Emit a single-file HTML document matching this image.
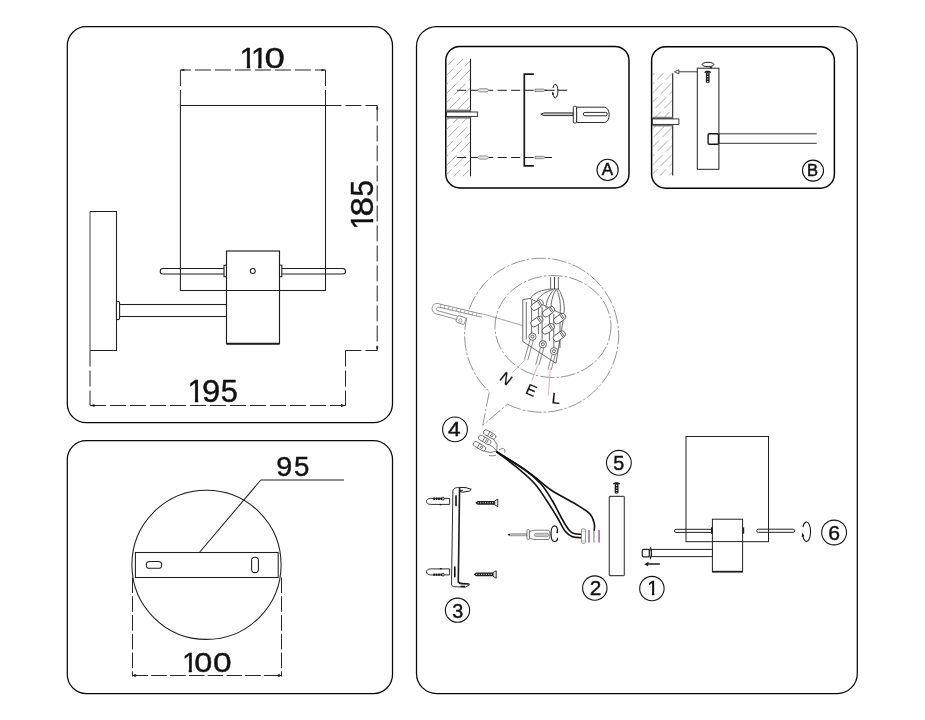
<!DOCTYPE html>
<html><head><meta charset="utf-8">
<style>
html,body{margin:0;padding:0;background:#fff;width:925px;height:720px;overflow:hidden}
svg{display:block;will-change:transform}
text{font-family:"Liberation Sans",sans-serif;fill:#111}
</style></head><body>
<svg width="925" height="720" viewBox="0 0 925 720">
<defs>
<!--CLIPS-->
<clipPath id="c1_30_2" clipPathUnits="userSpaceOnUse"><path d="M-20 -60H40V-3.56H10.56V10H7.30V-3.56H-20Z"/></clipPath>
<clipPath id="c1_30_5" clipPathUnits="userSpaceOnUse"><path d="M-20 -60H40V-3.58H10.66V10H7.37V-3.58H-20Z"/></clipPath>
<clipPath id="c1_27_6" clipPathUnits="userSpaceOnUse"><path d="M-20 -60H40V-3.36H9.68V10H6.64V-3.36H-20Z"/></clipPath>
<clipPath id="c1_19_8" clipPathUnits="userSpaceOnUse"><path d="M-20 -60H40V-2.78H7.03V10H4.68V-2.78H-20Z"/></clipPath>
<!--/CLIPS-->
</defs>
<rect width="925" height="720" fill="#fff"/>

<!-- ===== Outer boxes ===== -->
<g fill="none" stroke="#080808" stroke-width="1.25">
<rect x="67.3" y="26.7" width="325.2" height="396" rx="19"/>
<rect x="67.3" y="440.6" width="325.2" height="252.9" rx="19"/>
<rect x="416.5" y="26.55" width="440.8" height="666.95" rx="20"/>
<rect x="445.8" y="46.5" width="183.2" height="141.4" rx="14" stroke-width="1.45" stroke="#000"/>
<rect x="651.6" y="46.7" width="182.8" height="141.5" rx="14" stroke-width="1.45" stroke="#000"/>
</g>

<!-- ===== Top-left: side view with dims ===== -->
<g fill="none" stroke="#262626" stroke-width="1" stroke-dasharray="16 4">
<path d="M180.4 70H325.5" stroke-dashoffset="5.5"/>
<path d="M180.4 70V105.5M325.5 70V105.5"/>
<path d="M325.5 105.5H377.2"/>
<path d="M377.2 105.5V350.5"/>
<path d="M345.5 350.5H377.2"/>
<path d="M90 350.5V405.5"/>
<path d="M345.5 350.5V405.5"/>
<path d="M90 405.5H345.5"/>
</g>
<g fill="none" stroke="#1e1e1e" stroke-width="1.05">
<!-- shade -->
<rect x="180.4" y="105.5" width="145.1" height="185"/>
<!-- wall plate -->
<path d="M90 211.5H116.5V350.5H90" />
<!-- arm -->
<rect x="118.8" y="304.5" width="107.7" height="12"/>
<rect x="116.4" y="301.4" width="3.2" height="18.2" rx="1.5" fill="#fff"/>
<!-- rod -->
<rect x="160.2" y="268.5" width="185.3" height="5.4" rx="2.7" fill="none"/>
<!-- holder -->
<rect x="226.5" y="251" width="53" height="92.6" fill="#fff" stroke-width="1.15"/>
<line x1="226.4" y1="290.4" x2="279.5" y2="290.4"/>
<rect x="224" y="265.2" width="2.4" height="11.5" fill="#fff"/>
<rect x="279.5" y="265.2" width="2.3" height="11.5" fill="#fff"/>
<circle cx="252.8" cy="271" r="2.5"/>
</g>
<path d="M226.4 343.7H279.5" stroke="#1e1e1e" stroke-width="2"/>
<path d="M90 211.5V350.5" stroke="#555" stroke-width="1.1"/>
<g fill="#1e1e1e">
<path d="M180.4 70l4 -1.3v2.6z"/><path d="M325.5 70l-4 -1.3v2.6z"/>
<path d="M377.2 105.5l-1.3 4h2.6z"/><path d="M377.2 350.5l-1.3 -4h2.6z"/>
<path d="M90 405.5l4.5 -1.4v2.8z"/><path d="M345.5 405.5l-4.5 -1.4v2.8z"/>
</g>
<!--BIG-->
<g fill="#111" stroke="#111" stroke-width="0.4">
<text transform="translate(239.57 67.80) scale(1.000 1)" font-size="30.2" clip-path="url(#c1_30_2)">1</text>
<text transform="translate(250.92 67.80) scale(1.000 1)" font-size="30.2" clip-path="url(#c1_30_2)">1</text>
<text transform="translate(264.57 67.80) scale(1.212 1)" font-size="30.2">0</text>
<text transform="translate(187.53 402.10) scale(1.000 1)" font-size="30.5" clip-path="url(#c1_30_5)">1</text>
<text transform="translate(201.96 402.10) scale(1.079 1)" font-size="30.5">9</text>
<text transform="translate(220.67 402.10) scale(1.009 1)" font-size="30.5">5</text>
<text transform="translate(373.20 0) rotate(-90) translate(-229.67 0) scale(1.000 1)" font-size="30.5" clip-path="url(#c1_30_5)">1</text>
<text transform="translate(373.20 0) rotate(-90) translate(-216.42 0) scale(1.146 1)" font-size="30.5">8</text>
<text transform="translate(373.20 0) rotate(-90) translate(-196.58 0) scale(0.968 1)" font-size="30.5">5</text>
<text transform="translate(276.15 476.40) scale(1.047 1)" font-size="27.5">9</text>
<text transform="translate(293.89 476.40) scale(1.005 1)" font-size="27.5">5</text>
<text transform="translate(182.14 672.00) scale(1.000 1)" font-size="27.6" clip-path="url(#c1_27_6)">1</text>
<text transform="translate(194.13 672.00) scale(1.175 1)" font-size="27.6">0</text>
<text transform="translate(212.89 672.00) scale(1.213 1)" font-size="27.6">0</text>
</g>
<!--/BIG-->

<!-- ===== Bottom-left: top view ===== -->
<g fill="none" stroke="#262626" stroke-width="1" stroke-dasharray="15.5 3.3">
<path d="M132.5 577.5V676.5"/>
<path d="M281.5 577.5V676.5"/>
<path d="M132.5 675.5H281.5"/>
</g>
<g fill="#1e1e1e">
<path d="M132.5 675.5l2.5 -1.4l2.5 1.4l-2.5 1.4z"/><path d="M281.5 675.5l-2.5 -1.4l-2.5 1.4l2.5 1.4z"/>
</g>
<g fill="none" stroke="#1e1e1e" stroke-width="1.05">
<circle cx="206.5" cy="564.8" r="74.6"/>
<rect x="135.4" y="552.5" width="142.8" height="25" fill="#fff"/>
<rect x="146.3" y="561.5" width="15.4" height="6.8" rx="3.4"/>
<rect x="251.6" y="557.2" width="6.8" height="15.4" rx="3.4"/>
<path d="M199.4 552.5L260.8 480"/>
</g>
<path d="M260.8 480H344" stroke="#6a6a6a" stroke-width="1.4" fill="none"/>



<!-- ===== Panel A ===== -->
<clipPath id="clipA"><rect x="446.5" y="58.7" width="24" height="117.6"/></clipPath>
<clipPath id="clipB"><rect x="652.3" y="73.3" width="20.4" height="102.2"/></clipPath>
<g clip-path="url(#clipA)" stroke="#9a9a9a" stroke-width="0.85" stroke-dasharray="15 4.5">
<path d="M444.5 50.7l28.0 -28.0" stroke-dashoffset="0.0"/>
<path d="M444.5 59.7l28.0 -28.0" stroke-dashoffset="7.3"/>
<path d="M444.5 68.7l28.0 -28.0" stroke-dashoffset="14.6"/>
<path d="M444.5 77.7l28.0 -28.0" stroke-dashoffset="2.4"/>
<path d="M444.5 86.7l28.0 -28.0" stroke-dashoffset="9.7"/>
<path d="M444.5 95.7l28.0 -28.0" stroke-dashoffset="17.0"/>
<path d="M444.5 104.7l28.0 -28.0" stroke-dashoffset="4.8"/>
<path d="M444.5 113.7l28.0 -28.0" stroke-dashoffset="12.1"/>
<path d="M444.5 122.7l28.0 -28.0" stroke-dashoffset="19.4"/>
<path d="M444.5 131.7l28.0 -28.0" stroke-dashoffset="7.2"/>
<path d="M444.5 140.7l28.0 -28.0" stroke-dashoffset="14.5"/>
<path d="M444.5 149.7l28.0 -28.0" stroke-dashoffset="2.3"/>
<path d="M444.5 158.7l28.0 -28.0" stroke-dashoffset="9.6"/>
<path d="M444.5 167.7l28.0 -28.0" stroke-dashoffset="16.9"/>
<path d="M444.5 176.7l28.0 -28.0" stroke-dashoffset="4.7"/>
<path d="M444.5 185.7l28.0 -28.0" stroke-dashoffset="12.0"/>
<path d="M444.5 194.7l28.0 -28.0" stroke-dashoffset="19.3"/>
<path d="M444.5 203.7l28.0 -28.0" stroke-dashoffset="7.1"/>
</g>
<g fill="none" stroke="#1c1c1c">
<path d="M470.5 58.7V176.3" stroke-width="1.1"/>
</g>
<rect x="446.5" y="109.6" width="24" height="2.4" fill="#777"/>
<rect x="446.5" y="116.4" width="24" height="2.2" fill="#777"/>
<rect x="446.5" y="112" width="31.1" height="4.4" fill="#fff" stroke="#222" stroke-width="0.9"/>
<g fill="none" stroke="#222" stroke-width="1" stroke-dasharray="9 4.5">
<path d="M457.2 90.3H552"/>
<path d="M457.2 157.5H545"/>
</g>
<!-- dowels -->
<g fill="#e4e4e4" stroke="#6a6a6a" stroke-width="0.7">
<path d="M477.5 90.3l2 -1.6h7.5l1.8 1.6l-1.8 1.6h-7.5z"/>
<path d="M477.5 157.5l2 -1.6h7.5l1.8 1.6l-1.8 1.6h-7.5z"/>
</g>
<!-- screws -->
<g fill="#d8d8d8" stroke="#666" stroke-width="0.7">
<path d="M535 89.1h8.5l1.5 1.2l-1.5 1.2h-8.5z"/>
<path d="M535 156.3h8.5l1.5 1.2l-1.5 1.2h-8.5z"/>
</g>
<!-- bracket -->
<path d="M533.8 74.2H524.3V165.8H533.8" fill="none" stroke="#1a1a1a" stroke-width="1.7"/>
<!-- washer -->
<path d="M545 90.3H554.7M557.7 90.3H567.2M545 157.5H551.9" stroke="#1a1a1a" stroke-width="1.1"/>
<path d="M553 88A2.6 6.8 0 1 1 552.8 92.6" fill="none" stroke="#1a1a1a" stroke-width="1"/><path d="M552.6 91.4L552 95L554.2 94.2Z" fill="#1a1a1a"/>
<!-- screwdriver -->
<g fill="#fff" stroke="#222" stroke-width="0.95">
<path d="M540.8 114.2l3 -1.3h29.5v2.7h-29.5z" fill="#ccc"/>
<rect x="573.3" y="106.3" width="3.4" height="16.7" rx="1.2"/>
<path d="M576.7 107.2H604.5a4.7 7.65 0 0 1 0 15.3H576.7z"/>
<rect x="583.3" y="112.4" width="24" height="3.4" rx="1.7"/>
</g>

<!-- ===== Panel B ===== -->
<g clip-path="url(#clipB)" stroke="#9a9a9a" stroke-width="0.85" stroke-dasharray="15 4.5">
<path d="M650.3 68.3l24.4 -24.4" stroke-dashoffset="14.6"/>
<path d="M650.3 77.3l24.4 -24.4" stroke-dashoffset="2.4"/>
<path d="M650.3 86.3l24.4 -24.4" stroke-dashoffset="9.7"/>
<path d="M650.3 95.3l24.4 -24.4" stroke-dashoffset="17.0"/>
<path d="M650.3 104.3l24.4 -24.4" stroke-dashoffset="4.8"/>
<path d="M650.3 113.3l24.4 -24.4" stroke-dashoffset="12.1"/>
<path d="M650.3 122.3l24.4 -24.4" stroke-dashoffset="19.4"/>
<path d="M650.3 131.3l24.4 -24.4" stroke-dashoffset="7.2"/>
<path d="M650.3 140.3l24.4 -24.4" stroke-dashoffset="14.5"/>
<path d="M650.3 149.3l24.4 -24.4" stroke-dashoffset="2.3"/>
<path d="M650.3 158.3l24.4 -24.4" stroke-dashoffset="9.6"/>
<path d="M650.3 167.3l24.4 -24.4" stroke-dashoffset="16.9"/>
<path d="M650.3 176.3l24.4 -24.4" stroke-dashoffset="4.7"/>
<path d="M650.3 185.3l24.4 -24.4" stroke-dashoffset="12.0"/>
<path d="M650.3 194.3l24.4 -24.4" stroke-dashoffset="19.3"/>
<path d="M650.3 203.3l24.4 -24.4" stroke-dashoffset="7.1"/>
</g>
<path d="M672.7 73.3V175.5" stroke="#1c1c1c" stroke-width="1.1"/>
<rect x="652.3" y="116.8" width="20.4" height="2.2" fill="#777"/>
<rect x="652.3" y="124.4" width="20.4" height="2" fill="#777"/>
<rect x="652.3" y="118.9" width="26.6" height="5.5" fill="#fff" stroke="#222" stroke-width="0.9"/>
<path d="M697.3 71.8H677" stroke="#222" stroke-width="0.9"/>
<path d="M674.4 71.8l4.5 -2v4z" fill="#fff" stroke="#222" stroke-width="0.8"/>
<rect x="697.3" y="68.2" width="21.6" height="101.1" fill="#fff" stroke="#222" stroke-width="1"/>
<!-- screw -->
<ellipse cx="708" cy="64.5" rx="5.9" ry="2.2" fill="#fff" stroke="#1a1a1a" stroke-width="1"/>
<path d="M709.3 68.3L711.2 66.2L712.2 68.3Z" fill="#1a1a1a"/>
<path d="M704.2 72.8C704.4 70.2 711 70.2 711.2 72.8Z" fill="#1a1a1a"/>
<rect x="705.9" y="72.4" width="3.7" height="10.3" rx="0.6" fill="#1a1a1a"/>
<path d="M707.75 73.5V82" stroke="#e0e0e0" stroke-width="1.3" stroke-dasharray="1.1 1.4"/>
<!-- arm -->
<path d="M719 133.8H816.7M719 143.3H816.7" stroke="#333" stroke-width="1" fill="none"/>
<rect x="708.1" y="133.7" width="10.6" height="10.5" rx="1.3" fill="#fff" stroke="#111" stroke-width="1.35"/>
<path d="M718.3 133.8V144" stroke="#222" stroke-width="1"/>


<!-- ===== Wiring detail bubble ===== -->
<g fill="none" stroke="#666" stroke-width="0.7" stroke-dasharray="14.5 2 2.5 2">
<path d="M507.4 404.2A77 77 0 1 0 489.3 391.7L482.8 425.3Z"/>
<ellipse cx="553" cy="326.5" rx="58" ry="51"/>
</g>
<!-- cable tie -->
<g fill="#fff" stroke="#777" stroke-width="0.8">
<path d="M482.3 314.2L438 303.6C432 302.5 430 310 434.7 313.4L456.3 319.4"/>
<path d="M482 317.2L439 307.2C436 306.6 435.5 310 437 310.5L457 316"/>
</g>
<path d="M441 304.3l-1 3.2M445 305.3l-1 3.2M449 306.3l-1 3.2M453 307.3l-1 3.2M457 308.3l-1 3.2M461 309.3l-1 3.2M465 310.3l-1 3.2M469 311.3l-1 3.2M473 312.3l-1 3.2M477 313.3l-1 3.2" stroke="#888" stroke-width="0.7"/>
<rect x="456.5" y="316.5" width="9" height="7" rx="1.5" transform="rotate(18 461 320)" fill="#fff" stroke="#777" stroke-width="0.8"/>
<circle cx="460.5" cy="320.5" r="1.6" fill="none" stroke="#777" stroke-width="0.7"/>
<path d="M482.4 313.8L529 327.4" stroke="#666" stroke-width="0.6"/>
<!-- terminal block -->
<g fill="#fff" stroke="#3a3a3a" stroke-width="0.75">
<path d="M522.8 299.6L530 298.5L564 315L556 363.3L522.8 341.5Z"/>
<path d="M526.3 302V339.5"/>
<path d="M550.6 277V289H554.5V277M554.5 277V289H558.4V277" />
<path d="M550.6 289C543 290 533 292 530.5 299M552.6 289.5C545 292 539 296 537 301M554 289.5C549 295 546 302 546 308M556 289.5C552 296 551 303 551 309M556.6 289.5C560 296 561 305 560 315M558.4 289C563 296 565 305 564 313"/>
<path d="M531.6 300V334M538.4 302V334M542.1 307V341M549.4 309V341M553.8 314V348M560 316V348"/>
<g transform="rotate(-35 537.1 305.1)"><rect x="530.4" y="301.8" width="13.5" height="6.6" rx="3.3"/><path d="M541.1 302.5V307.7" fill="none"/><path d="M539.5 302.5V307.7" fill="none"/></g>
<g transform="rotate(-35 536.9 321.5)"><rect x="530.1" y="318.2" width="13.5" height="6.6" rx="3.3"/><path d="M540.9 318.9V324.1" fill="none"/><path d="M539.2 318.9V324.1" fill="none"/></g>
<g transform="rotate(-35 548.5 311.7)"><rect x="541.8" y="308.4" width="13.5" height="6.6" rx="3.3"/><path d="M552.5 309.1V314.3" fill="none"/><path d="M550.9 309.1V314.3" fill="none"/></g>
<g transform="rotate(-35 548.3 328.8)"><rect x="541.5" y="325.5" width="13.5" height="6.6" rx="3.3"/><path d="M552.2 326.2V331.4" fill="none"/><path d="M550.6 326.2V331.4" fill="none"/></g>
<g transform="rotate(-35 559.6 318.7)"><rect x="552.9" y="315.4" width="13.5" height="6.6" rx="3.3"/><path d="M563.6 316.1V321.3" fill="none"/><path d="M562.0 316.1V321.3" fill="none"/></g>
<g transform="rotate(-35 559.4 336.2)"><rect x="552.6" y="332.9" width="13.5" height="6.6" rx="3.3"/><path d="M563.4 333.6V338.8" fill="none"/><path d="M561.8 333.6V338.8" fill="none"/></g>
<circle cx="532.5" cy="336.7" r="3.6"/><circle cx="532.5" cy="336.7" r="1.5"/>
<circle cx="542.9" cy="344.3" r="3.6"/><circle cx="542.9" cy="344.3" r="1.5"/>
<circle cx="554" cy="351.2" r="3.6"/><circle cx="554" cy="351.2" r="1.5"/>
</g>
<g fill="none" stroke="#555" stroke-width="0.7">
<path d="M530 340L524.5 359.5M533.3 340.3L527.8 360"/>
<path d="M540.6 347.5L535.7 364.8M543.8 348L538.9 365.3"/>
<path d="M552 354.8L548 369.6M555.2 355.2L551.2 370"/>
</g>
<g stroke="#e29aaa" stroke-width="0.8" fill="none">
<path d="M512.4 372.6L525.5 359.5"/>
<path d="M531.8 380.9L537.5 365.5"/>
<path d="M548.4 395.4L550.3 367.7"/>
</g>
<g font-size="15.3" text-anchor="middle" stroke="#111" stroke-width="0.15">
<text transform="translate(502.9 382.8) rotate(39)">N</text>
<text transform="translate(529.2 395.1) rotate(24)">E</text>
<text transform="translate(555.6 403.6) rotate(5)">L</text>
</g>

<!-- ===== Item 4: small terminal + wires ===== -->
<g fill="#fff" stroke="#555" stroke-width="0.75">
<path d="M493 438.5L497 444.5L496.8 451M487.5 444L493 447L496.8 451M482.5 450.5L490 452.5L496.8 451"/>
<g transform="rotate(30 489.7 434.5)"><rect x="482.9" y="432" width="13.6" height="5" rx="2.5"/><path d="M488.5 432V437"/><circle cx="492" cy="434.5" r="1.2"/></g>
<g transform="rotate(30 484.7 439.9)"><rect x="477.9" y="437.4" width="13.6" height="5" rx="2.5"/><path d="M483.5 437.4V442.4"/><circle cx="487" cy="439.9" r="1.2"/></g>
<g transform="rotate(30 479.5 446.2)"><rect x="472.7" y="443.7" width="13.6" height="5" rx="2.5"/><path d="M478.3 443.7V448.7"/><circle cx="481.8" cy="446.2" r="1.2"/></g>
<path d="M499 450C503 447 506 449 504.5 452.5M489 455.5C492 456 494 456 496 455" fill="none"/>
</g>
<g fill="none" stroke="#111" stroke-width="1.6" stroke-linecap="round">
<path d="M497.0 452.0C500.8 455.0 513.7 464.7 520.0 470.0C526.3 475.3 530.5 478.8 535.0 484.0C539.5 489.2 543.3 495.5 547.0 501.0C550.7 506.5 554.0 512.0 557.0 517.0C560.0 522.0 562.5 527.8 565.0 531.0C567.5 534.2 569.2 535.4 572.0 536.5C574.8 537.6 579.9 537.5 581.5 537.7"/>
<path d="M497.0 452.0C501.5 454.8 516.7 463.7 524.0 469.0C531.3 474.3 536.2 478.7 541.0 484.0C545.8 489.3 549.1 495.3 552.5 501.0C555.9 506.7 558.8 513.2 561.5 518.0C564.2 522.8 566.9 527.4 569.0 530.0C571.1 532.6 571.9 532.8 574.0 533.5C576.1 534.2 580.2 534.2 581.5 534.4"/>
<path d="M497.0 452.0C502.2 455.3 519.0 465.7 528.0 472.0C537.0 478.3 543.1 484.7 551.0 490.0C558.9 495.3 569.1 500.0 575.6 504.0C582.1 508.0 586.9 510.7 590.0 514.0C593.1 517.3 593.6 521.3 594.3 524.0C595.0 526.7 594.2 529.2 594.2 530.3"/>
</g>
<rect x="581.4" y="528.8" width="4.2" height="14.5" rx="1.6" fill="#fff" stroke="#777" stroke-width="0.8"/>
<path d="M581.6 531.2H585.4M581.6 540.9H585.4" stroke="#888" stroke-width="0.6"/>
<path d="M589 530V542.6M599.1 530V542.6" stroke="#a585b5" stroke-width="1.8"/>
<path d="M593.9 531V542.6" stroke="#aaa" stroke-width="1.6"/>
<!-- screwdriver 2 -->
<path d="M507.6 534.7L510.5 533.6H527.2V535.9H510.5Z" fill="#b5b5b5" stroke="#8a8a8a" stroke-width="0.5"/>
<path d="M507.6 534.7L509.8 533.7V535.8Z" fill="#111"/>
<g fill="#fff" stroke="#555" stroke-width="0.75">
<rect x="527" y="529.5" width="2.4" height="10" rx="1.1"/>
<path d="M529.4 531.4L533.8 530.2H548.3C550.4 530.2 550.4 539.5 548.3 539.5H533.8L529.4 537.8Z"/>
<rect x="534.3" y="533.3" width="14.3" height="3.3" rx="1.6" fill="#c4c4c4" stroke="#888"/>
</g>
<path d="M557.6 532.2C557.8 528 556.5 525.9 554.5 525.9C552.2 525.9 551 530 551 533.7C551 538 552.2 541.5 554.5 541.5C556.5 541.5 557.6 540 557.6 537.8" fill="none" stroke="#111" stroke-width="1.2"/>
<path d="M556.9 529.5L558.3 533.2L556.4 533Z" fill="#111"/>

<!-- ===== Item 3: bracket, plugs, screws ===== -->
<g fill="none" stroke="#1a1a1a">
<path d="M458.9 487.4C455.5 487.6 452.9 488.5 452.9 491L451.5 584.5C451.6 586.2 453.5 586.8 457.5 586.8L465 587.3L469.8 584.6" stroke-width="0.9"/>
<path d="M459.6 487.3L458.3 581.4C458.4 583.2 460 583.5 462 583.6L469.3 584" stroke-width="1.6"/>
<path d="M459.6 487.3L466 487.7L471.3 489.3L469.4 491L462.9 492.2L460 491.6M459.6 490.3H463" stroke-width="1"/>
<path d="M460.5 586.3H465" stroke-width="1.3"/>
</g>
<rect x="455.2" y="495.3" width="1.6" height="11.1" rx="0.8" fill="#111"/>
<rect x="454" y="566.2" width="1.6" height="11.4" rx="0.8" fill="#111"/>
<path d="M449.6 498.4H430.5C428 498.4 426.4 499.9 426.4 501.4C426.4 502.9 428 504.4 430.5 504.4H449.6Z" fill="#fff" stroke="#1a1a1a" stroke-width="0.9"/><path d="M433.3 498.7H442" stroke="#1a1a1a" stroke-width="2.4" stroke-dasharray="1.8 0.6"/><ellipse cx="443" cy="498.6" rx="1" ry="1.6" fill="#fff" stroke="#1a1a1a" stroke-width="0.9"/><path d="M439.8 504.6h1.8" stroke="#1a1a1a" stroke-width="1.4"/>
<path d="M449.6 568.9H430.5C428 568.9 426.4 570.4 426.4 571.9C426.4 573.4 428 574.9 430.5 574.9H449.6Z" fill="#fff" stroke="#1a1a1a" stroke-width="0.9"/><path d="M433.3 574.6H442" stroke="#1a1a1a" stroke-width="2.4" stroke-dasharray="1.8 0.6"/><ellipse cx="443" cy="574.7" rx="1" ry="1.6" fill="#fff" stroke="#1a1a1a" stroke-width="0.9"/><path d="M439.8 568.7h1.8" stroke="#1a1a1a" stroke-width="1.4"/>
<path d="M475.2 502.8L477.7 500.9H494.7V504.7H477.7Z" fill="#1e1e1e"/><path d="M477.7 502.8H494.2" stroke="#ddd" stroke-width="1.1" stroke-dasharray="1.1 1.3"/><path d="M494.7 500.9L497.8 499.2V506.7L494.7 504.7Z" fill="#e8e8e8" stroke="#1e1e1e" stroke-width="0.9"/>
<path d="M473.7 574.4L476.2 572.5H493.1V576.2H476.2Z" fill="#1e1e1e"/><path d="M476.2 574.4H492.6" stroke="#ddd" stroke-width="1.1" stroke-dasharray="1.1 1.3"/><path d="M493.1 572.5L496.2 570.8V578.3L493.1 576.2Z" fill="#e8e8e8" stroke="#1e1e1e" stroke-width="0.9"/>

<!-- ===== Item 2 column + item 5 screw ===== -->
<rect x="609.3" y="496.3" width="15" height="79.4" rx="0.8" fill="#fff" stroke="#4a4a4a" stroke-width="1.2"/>
<path d="M613 484.2C613.3 481.6 619.8 481.6 620.1 484.2Z" fill="#1a1a1a"/>
<rect x="614.7" y="484" width="3.8" height="9.4" rx="0.8" fill="#1a1a1a"/>
<path d="M616.6 484.8V493" stroke="#e0e0e0" stroke-width="1.4" stroke-dasharray="1.1 1.5"/>

<!-- ===== Item 1 / 6 assembly ===== -->
<g fill="none" stroke="#222" stroke-width="1">
<rect x="686" y="436.5" width="82.5" height="105.2"/>
</g>
<g fill="#fff" stroke="#222" stroke-width="1">
<rect x="674.5" y="529.3" width="38" height="3.1" rx="1.55" fill="none"/>
<rect x="756.7" y="529.2" width="38" height="3.1" rx="1.55" fill="none"/>
<rect x="651.5" y="549.4" width="61" height="7.2"/>
<rect x="712.4" y="519.2" width="30.2" height="52.7"/>
<rect x="642.3" y="549.4" width="7" height="7.5" rx="1.3" stroke-width="1.2"/>
<path d="M650.5 547.7C649.2 550 649.2 556 650.5 558.5C651.8 556 651.8 550 650.5 547.7Z" stroke-width="1.1"/>
</g>
<path d="M712.4 541.6H742.6" stroke="#222" stroke-width="1"/>
<path d="M712.4 571.6H742.6" stroke="#222" stroke-width="1.6"/>
<rect x="711" y="527.3" width="1.8" height="6.6" fill="#222"/>
<rect x="742.6" y="527.4" width="1.6" height="6.3" fill="#222"/>
<path d="M648 564H659.8" stroke="#1a1a1a" stroke-width="1.5"/>
<path d="M644.3 564.2L648.5 561.8L648 566.3Z" fill="#1a1a1a"/>
<path d="M802.9 527A4.1 9.7 0 1 1 802.6 534.8" fill="none" stroke="#1a1a1a" stroke-width="1.1"/><path d="M802.4 532.4L801.6 537L804.4 536.2Z" fill="#1a1a1a"/>

<!-- ===== Numbered circles ===== -->
<g fill="none" stroke="#111" stroke-width="1.1">
<circle cx="607.6" cy="169.9" r="10.6"/>
<circle cx="813" cy="170.6" r="10.5"/>
<circle cx="651.9" cy="588.6" r="12.2"/>
<circle cx="594.8" cy="588.1" r="12.2"/>
<circle cx="457.5" cy="610.2" r="12.1"/>
<circle cx="455" cy="429.4" r="12.4"/>
<circle cx="618.9" cy="462.8" r="12.4"/>
<circle cx="834.1" cy="532.5" r="12.4"/>
</g>
<g text-anchor="middle" stroke="#111" stroke-width="0.5">
<text x="607.5" y="174.6" font-size="17">A</text>
<text x="812.5" y="175.8" font-size="16.5">B</text>
</g>
<!--SMALL-->
<g fill="#111" stroke="#111" stroke-width="0.4">
<text transform="translate(647.25 594.80) scale(1.000 1)" font-size="19.8" clip-path="url(#c1_19_8)">1</text>
<text transform="translate(589.75 594.60) scale(1.053 1)" font-size="19.8">2</text>
<text transform="translate(452.14 617.60) scale(1.001 1)" font-size="19.8">3</text>
<text transform="translate(447.98 435.60) scale(1.142 1)" font-size="19.8">4</text>
<text transform="translate(613.21 469.50) scale(1.001 1)" font-size="19.8">5</text>
<text transform="translate(828.32 539.50) scale(1.073 1)" font-size="19.8">6</text>
</g>
<!--/SMALL-->

</svg>
</body></html>
